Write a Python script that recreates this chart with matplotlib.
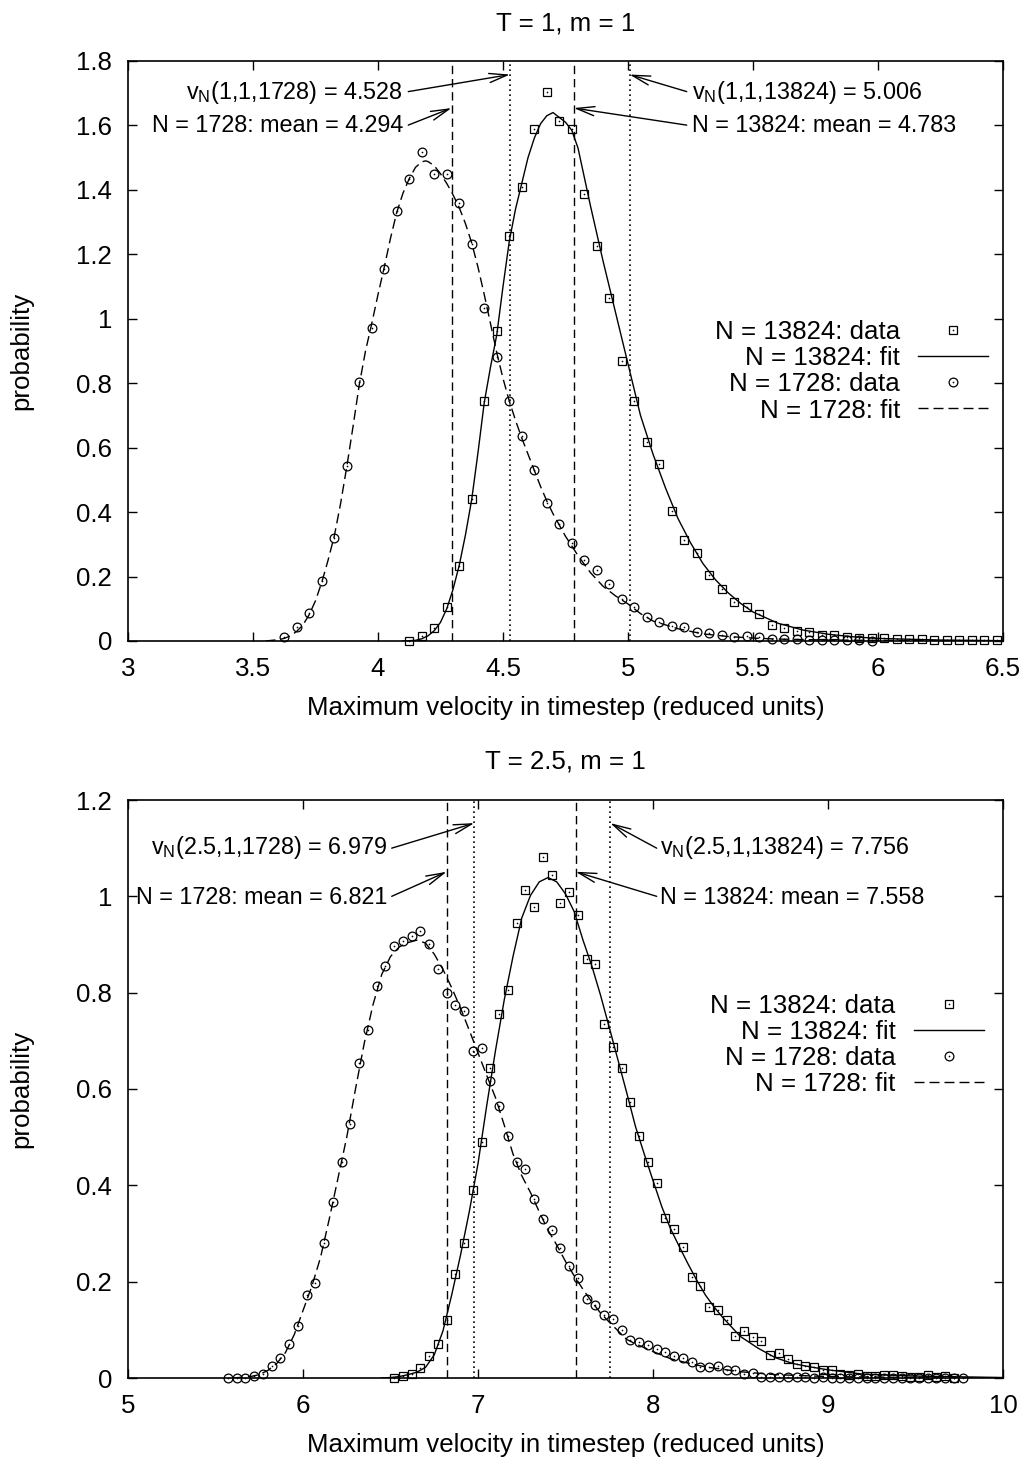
import matplotlib
matplotlib.use("Agg")
import matplotlib.pyplot as plt
from matplotlib.ticker import FuncFormatter
from matplotlib.legend_handler import HandlerTuple

plt.rcParams['font.family'] = ['Liberation Sans', 'DejaVu Sans']
plt.rcParams['mathtext.fontset'] = 'custom'
plt.rcParams['mathtext.rm'] = 'Liberation Sans'
plt.rcParams['mathtext.it'] = 'Liberation Sans:italic'
plt.rcParams['mathtext.default'] = 'regular'

# ---------------- data: top panel (T = 1, m = 1) ----------------
top_small_x = [3.625, 3.675, 3.725, 3.775, 3.825, 3.875, 3.925, 3.975, 4.025, 4.075,
               4.125, 4.175, 4.225, 4.275, 4.325, 4.375, 4.425, 4.475, 4.525, 4.575,
               4.625, 4.675, 4.725, 4.775, 4.825, 4.875, 4.925, 4.975, 5.025, 5.075,
               5.125, 5.175, 5.225, 5.275, 5.325, 5.375, 5.425, 5.475, 5.525, 5.575,
               5.625, 5.675, 5.725, 5.775, 5.825, 5.875, 5.925, 5.975]
top_small_y = [0.012, 0.042, 0.088, 0.187, 0.319, 0.544, 0.803, 0.971, 1.155, 1.333,
               1.435, 1.518, 1.449, 1.450, 1.358, 1.232, 1.033, 0.880, 0.746, 0.636,
               0.530, 0.429, 0.363, 0.303, 0.252, 0.220, 0.177, 0.129, 0.107, 0.074,
               0.060, 0.047, 0.043, 0.029, 0.024, 0.019, 0.011, 0.016, 0.013, 0.005,
               0.005, 0.005, 0.004, 0.003, 0.003, 0.002, 0.002, 0.001]

top_big_x = [4.125, 4.175, 4.225, 4.275, 4.325, 4.375, 4.425, 4.475, 4.525, 4.575,
             4.625, 4.675, 4.725, 4.775, 4.825, 4.875, 4.925, 4.975, 5.025, 5.075,
             5.125, 5.175, 5.225, 5.275, 5.325, 5.375, 5.425, 5.475, 5.525, 5.575,
             5.625, 5.675, 5.725, 5.775, 5.825, 5.875, 5.925, 5.975, 6.025, 6.075,
             6.125, 6.175, 6.225, 6.275, 6.325, 6.375, 6.425, 6.475]
top_big_y = [0.000, 0.016, 0.041, 0.104, 0.234, 0.441, 0.745, 0.961, 1.256, 1.409,
             1.589, 1.704, 1.613, 1.589, 1.388, 1.225, 1.066, 0.870, 0.745, 0.617,
             0.550, 0.402, 0.314, 0.272, 0.205, 0.160, 0.120, 0.107, 0.084, 0.050,
             0.039, 0.032, 0.027, 0.019, 0.019, 0.013, 0.010, 0.010, 0.008, 0.007,
             0.006, 0.005, 0.004, 0.004, 0.003, 0.003, 0.002, 0.002]

top_small_fit_x = [3.55, 3.6, 3.625, 3.65, 3.675, 3.7, 3.725, 3.75, 3.775, 3.8, 3.825,
                   3.85, 3.875, 3.9, 3.925, 3.95, 3.975, 4.0, 4.025, 4.05, 4.075, 4.1,
                   4.125, 4.15, 4.175, 4.19, 4.2, 4.225, 4.25, 4.275, 4.3, 4.325, 4.35,
                   4.375, 4.4, 4.425, 4.45, 4.475, 4.5, 4.525, 4.55, 4.575, 4.6, 4.625,
                   4.65, 4.675, 4.7, 4.75, 4.8, 4.85, 4.9, 4.95, 5.0, 5.05, 5.1, 5.2,
                   5.3, 5.4, 5.5, 5.6, 5.8, 6.0, 6.25, 6.5]
top_small_fit_y = [0.0, 0.004, 0.008, 0.016, 0.030, 0.050, 0.082, 0.125, 0.182, 0.250,
                   0.325, 0.425, 0.540, 0.665, 0.795, 0.900, 0.985, 1.075, 1.160, 1.250,
                   1.330, 1.390, 1.435, 1.470, 1.487, 1.490, 1.488, 1.475, 1.450, 1.420,
                   1.385, 1.345, 1.295, 1.235, 1.160, 1.075, 0.985, 0.895, 0.815, 0.745,
                   0.685, 0.630, 0.580, 0.530, 0.480, 0.435, 0.395, 0.325, 0.265, 0.212,
                   0.170, 0.140, 0.115, 0.085, 0.062, 0.038, 0.022, 0.014, 0.009, 0.006,
                   0.003, 0.002, 0.001, 0.0]

top_big_fit_x = [4.1, 4.15, 4.175, 4.2, 4.225, 4.25, 4.275, 4.3, 4.325, 4.35, 4.375,
                 4.4, 4.425, 4.45, 4.475, 4.5, 4.525, 4.55, 4.575, 4.6, 4.625, 4.65,
                 4.675, 4.7, 4.725, 4.75, 4.775, 4.8, 4.825, 4.85, 4.875, 4.9, 4.925,
                 4.95, 4.975, 5.0, 5.05, 5.1, 5.15, 5.2, 5.25, 5.3, 5.35, 5.4, 5.45,
                 5.5, 5.6, 5.7, 5.8, 5.9, 6.0, 6.25, 6.5]
top_big_fit_y = [0.0, 0.002, 0.007, 0.016, 0.032, 0.058, 0.100, 0.160, 0.235, 0.330,
                 0.440, 0.585, 0.740, 0.850, 0.950, 1.100, 1.240, 1.340, 1.420, 1.500,
                 1.560, 1.605, 1.630, 1.640, 1.625, 1.610, 1.585, 1.530, 1.440, 1.350,
                 1.265, 1.180, 1.100, 1.020, 0.940, 0.860, 0.700, 0.580, 0.475, 0.380,
                 0.305, 0.240, 0.190, 0.150, 0.117, 0.090, 0.055, 0.034, 0.021, 0.013,
                 0.008, 0.003, 0.001]

# ---------------- data: bottom panel (T = 2.5, m = 1) ----------------
bot_small_x = [5.57, 5.62, 5.67, 5.72, 5.77, 5.82, 5.87, 5.92, 5.97, 6.02, 6.07, 6.12,
               6.17, 6.22, 6.27, 6.32, 6.37, 6.42, 6.47, 6.52, 6.57, 6.62, 6.67, 6.72,
               6.77, 6.82, 6.87, 6.92, 6.97, 7.02, 7.07, 7.12, 7.17, 7.22, 7.27, 7.32,
               7.37, 7.42, 7.47, 7.52, 7.57, 7.62, 7.67, 7.72, 7.77, 7.82, 7.87, 7.92,
               7.97, 8.02, 8.07, 8.12, 8.17, 8.22, 8.27, 8.32, 8.37, 8.42, 8.47, 8.52,
               8.57, 8.62, 8.67, 8.72, 8.77, 8.82, 8.87, 8.92, 8.97, 9.02, 9.07, 9.12,
               9.17, 9.22, 9.27, 9.32, 9.37, 9.42, 9.47, 9.52, 9.57, 9.62, 9.67, 9.72,
               9.77]
bot_small_y = [0.000, 0.000, 0.001, 0.004, 0.008, 0.025, 0.042, 0.070, 0.108, 0.173,
               0.198, 0.281, 0.365, 0.449, 0.528, 0.655, 0.722, 0.814, 0.856, 0.897,
               0.907, 0.918, 0.927, 0.902, 0.849, 0.800, 0.774, 0.761, 0.679, 0.686,
               0.617, 0.565, 0.502, 0.449, 0.433, 0.372, 0.331, 0.307, 0.269, 0.233,
               0.207, 0.165, 0.152, 0.130, 0.123, 0.099, 0.078, 0.075, 0.068, 0.061,
               0.055, 0.046, 0.041, 0.034, 0.023, 0.022, 0.025, 0.016, 0.017, 0.009,
               0.011, 0.002, 0.003, 0.003, 0.002, 0.002, 0.002, 0.001, 0.002, 0.001,
               0.001, 0.001, 0.001, 0.000, 0.001, 0.000, 0.001, 0.000, 0.001, 0.000,
               0.000, 0.000, 0.000, 0.000, 0.000]

bot_big_x = [6.52, 6.57, 6.62, 6.67, 6.72, 6.77, 6.82, 6.87, 6.92, 6.97, 7.02, 7.07,
             7.12, 7.17, 7.22, 7.27, 7.32, 7.37, 7.42, 7.47, 7.52, 7.57, 7.62, 7.67,
             7.72, 7.77, 7.82, 7.87, 7.92, 7.97, 8.02, 8.07, 8.12, 8.17, 8.22, 8.27,
             8.32, 8.37, 8.42, 8.47, 8.52, 8.57, 8.62, 8.67, 8.72, 8.77, 8.82, 8.87,
             8.92, 8.97, 9.02, 9.07, 9.12, 9.17, 9.22, 9.27, 9.32, 9.37, 9.42, 9.47,
             9.52, 9.57, 9.62, 9.67, 9.72]
bot_big_y = [0.000, 0.005, 0.009, 0.020, 0.045, 0.071, 0.121, 0.215, 0.281, 0.390,
             0.490, 0.643, 0.755, 0.805, 0.944, 1.014, 0.978, 1.081, 1.044, 0.987,
             1.008, 0.961, 0.870, 0.859, 0.734, 0.688, 0.643, 0.574, 0.502, 0.449,
             0.404, 0.333, 0.309, 0.273, 0.210, 0.190, 0.147, 0.142, 0.120, 0.087,
             0.098, 0.086, 0.077, 0.047, 0.052, 0.039, 0.029, 0.024, 0.022, 0.017,
             0.016, 0.009, 0.006, 0.009, 0.004, 0.004, 0.006, 0.006, 0.004, 0.003,
             0.002, 0.006, 0.002, 0.004, 0.001]

bot_small_fit_x = [5.6, 5.7, 5.75, 5.8, 5.85, 5.9, 5.95, 6.0, 6.05, 6.1, 6.15, 6.2,
                   6.25, 6.3, 6.35, 6.4, 6.45, 6.5, 6.55, 6.6, 6.65, 6.7, 6.75, 6.8,
                   6.85, 6.9, 6.95, 7.0, 7.05, 7.1, 7.15, 7.2, 7.25, 7.3, 7.35, 7.4,
                   7.45, 7.5, 7.55, 7.6, 7.65, 7.7, 7.75, 7.8, 7.85, 7.9, 8.0, 8.1,
                   8.2, 8.3, 8.4, 8.5, 8.7, 9.0, 9.5, 10.0]
bot_small_fit_y = [0.0, 0.003, 0.007, 0.016, 0.030, 0.053, 0.090, 0.140, 0.190, 0.250,
                   0.330, 0.415, 0.500, 0.600, 0.695, 0.775, 0.838, 0.875, 0.895, 0.904,
                   0.909, 0.903, 0.880, 0.848, 0.810, 0.768, 0.722, 0.675, 0.628, 0.582,
                   0.525, 0.465, 0.420, 0.385, 0.345, 0.307, 0.276, 0.242, 0.212, 0.184,
                   0.158, 0.135, 0.116, 0.098, 0.080, 0.071, 0.055, 0.040, 0.031, 0.023,
                   0.018, 0.013, 0.007, 0.003, 0.001, 0.0]

bot_big_fit_x = [6.45, 6.5, 6.55, 6.6, 6.65, 6.7, 6.75, 6.8, 6.85, 6.9, 6.95, 7.0,
                 7.05, 7.1, 7.15, 7.2, 7.25, 7.3, 7.35, 7.4, 7.45, 7.5, 7.55, 7.6,
                 7.65, 7.7, 7.75, 7.8, 7.85, 7.9, 7.95, 8.0, 8.05, 8.1, 8.15, 8.2,
                 8.25, 8.3, 8.35, 8.4, 8.5, 8.6, 8.7, 8.8, 8.9, 9.0, 9.2, 9.5, 10.0]
bot_big_fit_y = [0.0, 0.001, 0.003, 0.007, 0.012, 0.022, 0.048, 0.098, 0.173, 0.255,
                 0.345, 0.445, 0.566, 0.680, 0.785, 0.875, 0.955, 1.002, 1.030, 1.039,
                 1.030, 1.005, 0.968, 0.909, 0.856, 0.795, 0.728, 0.660, 0.592, 0.522,
                 0.465, 0.410, 0.356, 0.310, 0.273, 0.237, 0.203, 0.172, 0.147, 0.125,
                 0.086, 0.062, 0.042, 0.030, 0.023, 0.017, 0.008, 0.004, 0.001]

# ---------------- panel texts / reference values ----------------
titles = ["T = 1, m = 1", "T = 2.5, m = 1"]
xlims = [(3, 6.5), (5, 10)]
ylims = [(0, 1.8), (0, 1.2)]
xticks = [[3, 3.5, 4, 4.5, 5, 5.5, 6, 6.5], [5, 6, 7, 8, 9, 10]]
yticks = [[0, 0.2, 0.4, 0.6, 0.8, 1.0, 1.2, 1.4, 1.6, 1.8],
          [0, 0.2, 0.4, 0.6, 0.8, 1.0, 1.2]]
means_small = [4.294, 6.821]
means_big = [4.783, 7.558]
vn_small = [4.528, 6.979]
vn_big = [5.006, 7.756]
vn_labels_small = ["v$_{N}$(1,1,1728) = 4.528", "v$_{N}$(2.5,1,1728) = 6.979"]
vn_labels_big = ["v$_{N}$(1,1,13824) = 5.006", "v$_{N}$(2.5,1,13824) = 7.756"]
mean_labels_small = ["N = 1728: mean = 4.294", "N = 1728: mean = 6.821"]
mean_labels_big = ["N = 13824: mean = 4.783", "N = 13824: mean = 7.558"]
legend_labels = ["N = 13824: data", "N = 13824: fit", "N = 1728: data", "N = 1728: fit"]

# label anchor positions (x left-group right edge, x right-group left edge, baselines)
lab_x_left = [4.099, 6.480]
lab_x_right = [5.255, 8.040]
lab_base_vn = [1.683, 1.088]
lab_base_mean = [1.579, 0.985]
arr_tail_left = [4.121, 6.507]
arr_tail_right = [5.235, 8.021]
arr_tail_y_vn = [1.705, 1.100]
arr_tail_y_mean = [1.601, 1.000]
arr_head_y_vn = [1.758, 1.152]
arr_head_y_mean = [1.654, 1.051]
legend_anchor = [(0.983, 0.4648), (0.978, 0.576)]

panels = [
    (top_small_x, top_small_y, top_big_x, top_big_y,
     top_small_fit_x, top_small_fit_y, top_big_fit_x, top_big_fit_y),
    (bot_small_x, bot_small_y, bot_big_x, bot_big_y,
     bot_small_fit_x, bot_small_fit_y, bot_big_fit_x, bot_big_fit_y),
]

FS = 18.6
FS_LAB = 16.8
W, H = 1032, 1459
fig = plt.figure(figsize=(W / 100, H / 100), dpi=100)
axes_px = [(128, 61, 1003, 641), (128, 800, 1003, 1378)]

fit_dash = (0, (7.2, 3.6))
vline_dash = (0, (6.0, 3.5))
vline_dot = (0, (1.0, 2.0))

for i, (ax_px, data) in enumerate(zip(axes_px, panels)):
    l, t, r, b = ax_px
    ax = fig.add_axes([l / W, 1 - b / H, (r - l) / W, (b - t) / H])
    sx, sy, bx, by, sfx, sfy, bfx, bfy = data

    ax.axvline(means_small[i], color='k', lw=1.0, ls=vline_dash)
    ax.axvline(means_big[i], color='k', lw=1.0, ls=vline_dash)
    ax.axvline(vn_small[i], color='k', lw=1.2, ls=vline_dot)
    ax.axvline(vn_big[i], color='k', lw=1.2, ls=vline_dot)

    sq, = ax.plot(bx, by, ls='none', marker='s', ms=6.2, mfc='none', mec='k',
                  mew=0.9, clip_on=False, zorder=4)
    sqd, = ax.plot(bx, by, ls='none', marker='o', ms=1.2, mfc='k', mec='k',
                   mew=0, clip_on=False, zorder=4)
    fb, = ax.plot(bfx, bfy, color='k', lw=1.0, zorder=3)
    ci, = ax.plot(sx, sy, ls='none', marker='o', ms=6.3, mfc='none', mec='k',
                  mew=0.9, clip_on=False, zorder=4)
    cid, = ax.plot(sx, sy, ls='none', marker='o', ms=1.2, mfc='k', mec='k',
                   mew=0, clip_on=False, zorder=4)
    fs, = ax.plot(sfx, sfy, color='k', lw=1.0, ls=fit_dash, zorder=3)

    ax.set_xlim(*xlims[i])
    ax.set_ylim(*ylims[i])
    ax.set_xticks(xticks[i])
    ax.set_yticks(yticks[i])
    fmt = FuncFormatter(lambda v, p: f"{v:g}")
    ax.xaxis.set_major_formatter(fmt)
    ax.yaxis.set_major_formatter(fmt)
    ax.tick_params(direction='in', length=6.5, width=1.0, top=True, right=True,
                   labelsize=FS, pad=11.5)
    for sp in ax.spines.values():
        sp.set_linewidth(1.2)

    ax.text(0.5, 1 + 31 / (b - t), titles[i], transform=ax.transAxes,
            ha='center', va='baseline', fontsize=FS)
    ax.set_xlabel("Maximum velocity in timestep (reduced units)", fontsize=FS)
    ax.xaxis.label.set_va('baseline')
    ax.xaxis.set_label_coords(0.5, -74 / (b - t))
    ax.set_ylabel("probability", fontsize=FS)
    ax.yaxis.label.set_va('center')
    ax.yaxis.set_label_coords((21.7 - l) / (r - l), 0.5)

    # labels
    ax.text(lab_x_left[i], lab_base_vn[i], vn_labels_small[i], ha='right',
            va='baseline', fontsize=FS_LAB)
    ax.text(lab_x_left[i], lab_base_mean[i], mean_labels_small[i], ha='right',
            va='baseline', fontsize=FS_LAB)
    ax.text(lab_x_right[i], lab_base_vn[i], vn_labels_big[i], ha='left',
            va='baseline', fontsize=FS_LAB)
    ax.text(lab_x_right[i], lab_base_mean[i], mean_labels_big[i], ha='left',
            va='baseline', fontsize=FS_LAB)

    aprops = dict(arrowstyle='->,head_length=1.3,head_width=0.33', lw=1.0,
                  color='k', shrinkA=0, shrinkB=0, mutation_scale=10)
    ax.annotate('', xy=(vn_small[i], arr_head_y_vn[i]),
                xytext=(arr_tail_left[i], arr_tail_y_vn[i]), arrowprops=aprops)
    ax.annotate('', xy=(means_small[i], arr_head_y_mean[i]),
                xytext=(arr_tail_left[i], arr_tail_y_mean[i]), arrowprops=aprops)
    ax.annotate('', xy=(vn_big[i], arr_head_y_vn[i]),
                xytext=(arr_tail_right[i], arr_tail_y_vn[i]), arrowprops=aprops)
    ax.annotate('', xy=(means_big[i], arr_head_y_mean[i]),
                xytext=(arr_tail_right[i], arr_tail_y_mean[i]), arrowprops=aprops)

    ax.legend([(sq, sqd), fb, (ci, cid), fs], legend_labels,
              handler_map={tuple: HandlerTuple(ndivide=1)},
              loc='center right', bbox_to_anchor=legend_anchor[i],
              frameon=False, markerfirst=False, handlelength=2.71,
              handletextpad=0.7, labelspacing=0.08, borderpad=0,
              borderaxespad=0, fontsize=FS, numpoints=1)

fig.savefig("out.png", dpi=100)
